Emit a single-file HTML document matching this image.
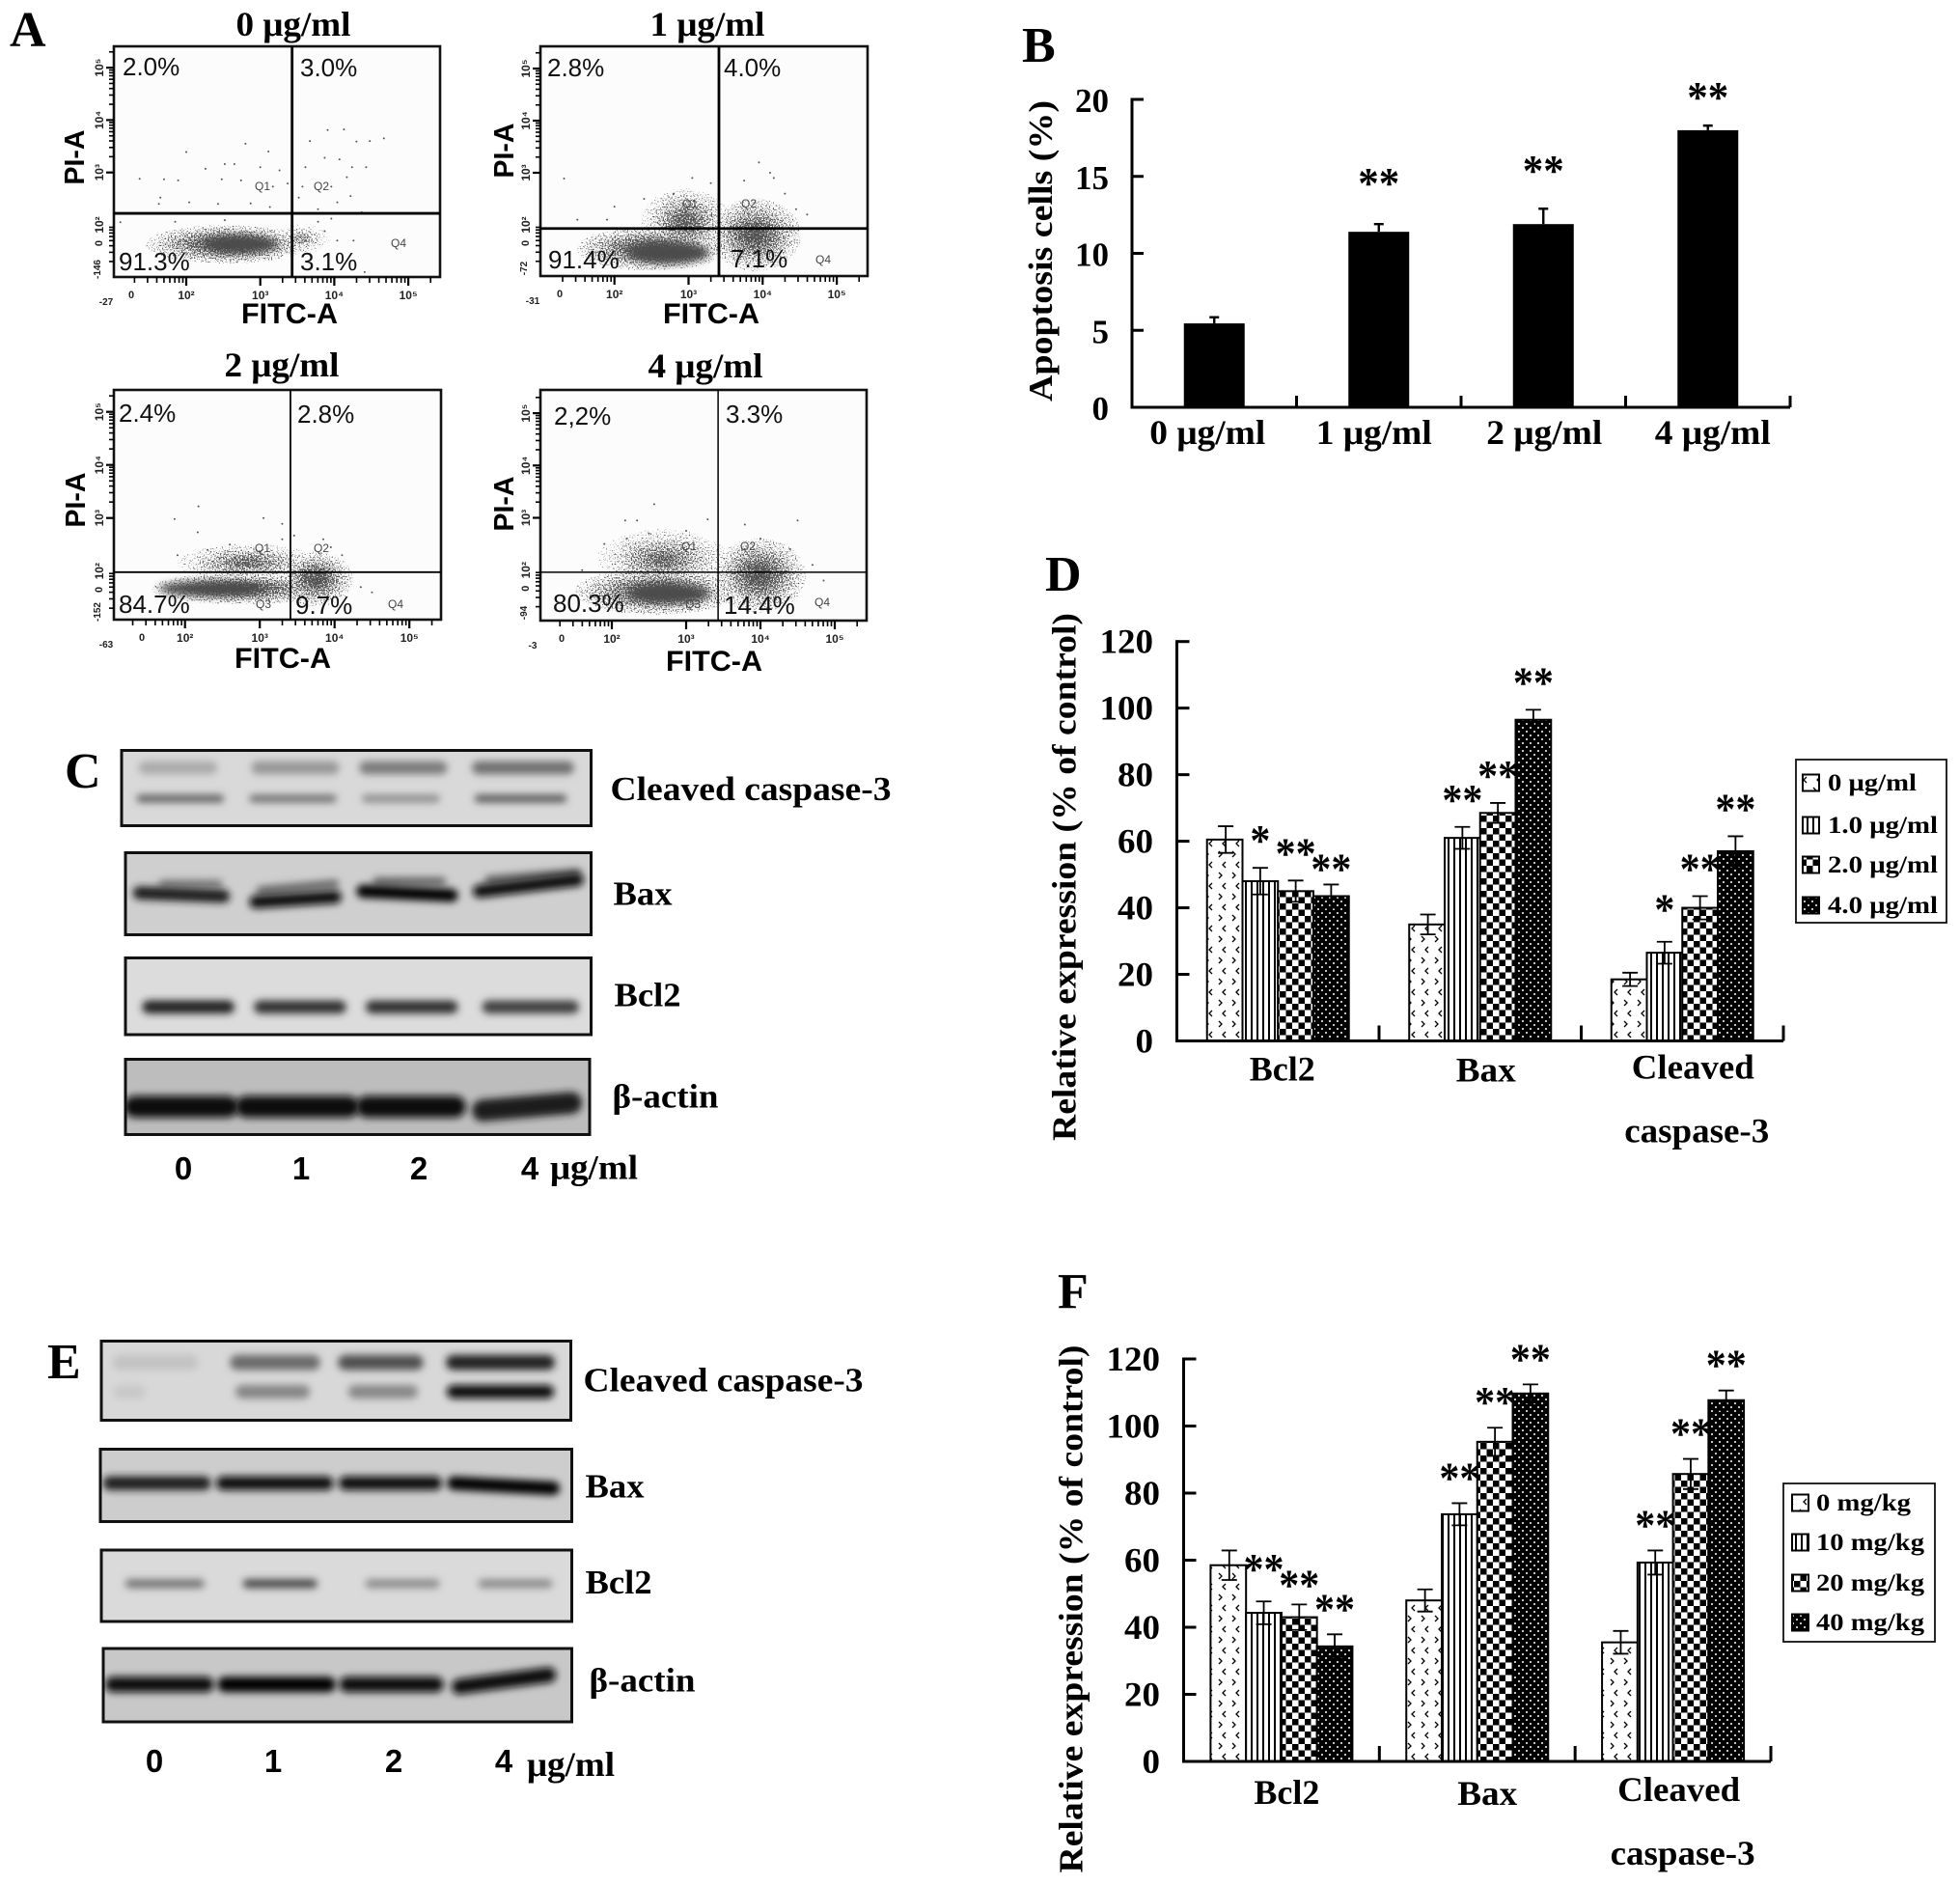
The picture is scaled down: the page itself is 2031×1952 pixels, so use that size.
<!DOCTYPE html>
<html lang="en">
<head>
<meta charset="utf-8">
<title>Apoptosis and protein expression figure</title>
<style>
html,body{margin:0;padding:0;background:#fff}
svg{display:block}
</style>
</head>
<body>
<svg id="fig" xmlns="http://www.w3.org/2000/svg" width="2031" height="1952" viewBox="0 0 2031 1952">
<defs>
<pattern id="p0" width="14" height="22" patternUnits="userSpaceOnUse"><rect width="14" height="22" fill="#fff"/><path d="M3 2l3 3-3 3M10 13l-3 3 3 3" fill="none" stroke="#000" stroke-width="1.3"/></pattern>
<pattern id="p1" width="6" height="6" patternUnits="userSpaceOnUse"><rect width="6" height="6" fill="#fff"/><rect width="2" height="6" fill="#000"/></pattern>
<pattern id="p2" width="13" height="13" patternUnits="userSpaceOnUse"><rect width="13" height="13" fill="#fff"/><rect width="6.5" height="6.5" fill="#000"/><rect x="6.5" y="6.5" width="6.5" height="6.5" fill="#000"/></pattern>
<pattern id="p3" width="8" height="8" patternUnits="userSpaceOnUse"><rect width="8" height="8" fill="#000"/><circle cx="2" cy="2" r="1" fill="#fff"/><circle cx="6" cy="6" r="1" fill="#fff"/></pattern>
<radialGradient id="cloudFill"><stop offset="0" stop-color="#000" stop-opacity="0.8"/><stop offset="1" stop-color="#000" stop-opacity="0.38"/></radialGradient>
<filter id="soft" x="-30%" y="-60%" width="160%" height="220%"><feGaussianBlur stdDeviation="4"/></filter>
<filter id="band" filterUnits="userSpaceOnUse" x="0" y="0" width="2031" height="1952"><feGaussianBlur stdDeviation="4"/></filter>
<filter id="speckle" x="-5%" y="-5%" width="110%" height="110%" color-interpolation-filters="sRGB"><feTurbulence type="fractalNoise" baseFrequency="0.7" numOctaves="2" seed="3" result="n"/><feComposite in="SourceAlpha" in2="n" operator="arithmetic" k1="0" k2="1" k3="1" k4="-1" result="a"/><feColorMatrix in="a" type="matrix" values="0 0 0 0 0.32 0 0 0 0 0.32 0 0 0 0 0.32 0 0 0 8 0"/></filter>
</defs>
</svg>
<script>
/* ---------- Panel B data ---------- */
const bCategories = ['0 μg/ml', '1 μg/ml', '2 μg/ml', '4 μg/ml'];
const bValues = [5.45, 11.4, 11.9, 18];
const bErrors = [0.4, 0.5, 1, 0.3];
const bSignificance = ['', '**', '**', '**'];
const bYTicks = [0, 5, 10, 15, 20];

/* ---------- Panel D data ---------- */
const dCategories = ['Bcl2', 'Bax', 'Cleaved caspase-3'];
const dSeriesNames = ['0 μg/ml', '1.0 μg/ml', '2.0 μg/ml', '4.0 μg/ml'];
const dSeries0 = [60.5, 35, 18.5];
const dSeries1 = [48, 61, 26.5];
const dSeries2 = [45, 68.5, 40];
const dSeries3 = [43.5, 96.5, 57];
const dErrors0 = [4, 3, 2];
const dErrors1 = [4, 3.3, 3.3];
const dErrors2 = [3.2, 3, 3.5];
const dErrors3 = [3.5, 3, 4.5];
const dStars0 = ['', '', ''];
const dStars1 = ['*', '**', '*'];
const dStars2 = ['**', '**', '**'];
const dStars3 = ['**', '**', '**'];
const dYTicks = [0, 20, 40, 60, 80, 100, 120];

/* ---------- Panel F data ---------- */
const fCategories = ['Bcl2', 'Bax', 'Cleaved caspase-3'];
const fSeriesNames = ['0 mg/kg', '10 mg/kg', '20 mg/kg', '40 mg/kg'];
const fSeries0 = [58.5, 48, 35.5];
const fSeries1 = [44.3, 73.7, 59.3];
const fSeries2 = [43, 95.3, 85.7];
const fSeries3 = [34.3, 109.7, 107.7];
const fErrors0 = [4.4, 3.3, 3.4];
const fErrors1 = [3.4, 3.3, 3.6];
const fErrors2 = [3.8, 4.2, 4.5];
const fErrors3 = [3.6, 2.7, 2.9];
const fStars0 = ['', '', ''];
const fStars1 = ['**', '**', '**'];
const fStars2 = ['**', '**', '**'];
const fStars3 = ['**', '**', '**'];
const fYTicks = [0, 20, 40, 60, 80, 100, 120];

/* ---------- Panel A data: log10(FITC), log10(PI) ---------- */
const aTitles = ['0 μg/ml', '1 μg/ml', '2 μg/ml', '4 μg/ml'];
const aGateX = [3.43, 3.41, 3.41, 3.43];
const aGateY = [2.22, 1.93, 1.98, 1.96];
const aQ1Percent = ['2.0%', '2.8%', '2.4%', '2,2%'];
const aQ2Percent = ['3.0%', '4.0%', '2.8%', '3.3%'];
const aQ3Percent = ['91.3%', '91.4%', '84.7%', '80.3%'];
const aQ4Percent = ['3.1%', '7.1%', '9.7%', '14.4%'];
const aXDecades = [2, 3, 4, 5];
const aYDecades = [2, 3, 4, 5];
/* cloud: centre log x, centre log y, spread log x, spread log y, density */
const aMainCloud = [
  [2.74, 1.63, 0.5, 0.16, 1],
  [2.73, 1.46, 0.55, 0.2, 1],
  [2.33, 1.67, 0.68, 0.13, 1],
  [2.77, 1.55, 0.55, 0.17, 1]
];
const aHaloCloud = [
  [2.55, 1.63, 1.1, 0.37, 1],
  [2.5, 1.54, 1.02, 0.42, 1],
  [2.75, 1.67, 1.2, 0.3, 1],
  [2.6, 1.59, 1.1, 0.45, 1]
];
const aUpperCloud = [
  [3, 2.9, 0.1, 0.1, 0],
  [2.96, 2.05, 0.6, 0.65, 0.9],
  [2.84, 2.16, 0.95, 0.36, 0.85],
  [2.69, 2.2, 0.9, 0.58, 0.85]
];
const aRightCloud = [
  [3.56, 1.74, 0.4, 0.3, 0.75],
  [3.9, 1.81, 0.62, 0.7, 0.97],
  [3.75, 1.85, 0.5, 0.52, 0.97],
  [3.99, 1.9, 0.62, 0.72, 0.97]
];
const aEvents0 = [[4.67,3.65],[4.13,3.82],[3.91,3.81],[3.67,3.6],[4.3,3.59],[4.48,3.6],[4.24,3.1],[4.43,3.1],[4.17,2.91],[4.07,3.25],[3.87,3.28],[3.61,3.1],[3.57,2.73],[3.96,2.73],[4.22,2.55],[3.52,2.52],[3.78,2.3],[4.04,2.43],[4.37,2.24],[2,3.39],[2.8,3.55],[3.11,3.4],[1.37,2.88],[1.7,2.87],[1.89,2.85],[2.26,3.07],[2.52,3.16],[2.65,3.16],[2.48,2.87],[2.74,2.85],[3,3.1],[3.26,3.04],[3.17,2.73],[3.37,2.79],[1.65,2.52],[1.63,2.4],[2.04,2.43],[2.43,2.4],[2.87,2.41],[3.13,2.34],[1.11,2.05],[1.85,2.06],[2.52,2.09],[3.78,2.06],[3.87,1.88],[4.04,1.7],[4.26,1.7],[4.41,1.1],[3.61,1.7],[3.96,2.12]];
const aEvents1 = [[1.32,2.89],[4.1,3],[3.95,3.2],[4.15,2.9],[3.05,2.9],[3.3,2.8],[3.75,2.85],[2.4,2.5],[2,2.35],[1.5,2.1],[4.6,2.2],[4.3,2.6],[2.8,2.6],[4.45,2.3],[1.9,2.1]];
const aEvents2 = [[2.18,3.22],[1.86,2.98],[3.05,3],[3.3,2.89],[2.17,2.73],[3.46,2.67],[3.85,2.6],[3.95,2.45],[4.1,2.3],[2.3,2.4],[1.9,2.3],[2.6,2.5],[4.5,1.6],[3.3,2.6],[4.35,1.7]];
const aEvents3 = [[2.57,3.26],[2.18,2.95],[2.34,2.95],[3.29,2.97],[3.79,2.87],[4.5,2.95],[1.9,2.5],[2.2,2.6],[2.5,2.7],[3,2.75],[4,2.6],[4.4,2.4],[4.7,2.1],[4.85,1.8],[1.6,2]];

const cBlotLabels = ['Cleaved caspase-3', 'Bax', 'Bcl2', 'β-actin'];
const eBlotLabels = ['Cleaved caspase-3', 'Bax', 'Bcl2', 'β-actin'];
const doses = ['0', '1', '2'];

const svg = document.getElementById('fig');
const NS = 'http://www.w3.org/2000/svg';
const SERIF = '"Liberation Serif", serif';
const SANS = '"Liberation Sans", sans-serif';

function mk(tag, attrs, parent) {
  const el = document.createElementNS(NS, tag);
  for (const k in attrs) el.setAttribute(k, attrs[k]);
  (parent || svg).appendChild(el);
  return el;
}
function line(parent, x1, y1, x2, y2, w) {
  return mk('line', {x1: x1, y1: y1, x2: x2, y2: y2, stroke: '#000', 'stroke-width': w}, parent);
}
function label(parent, str, x, y, o) {
  o = o || {};
  const a = {x: x, y: y, 'font-family': o.fam || SERIF, 'font-size': o.size || 34, 'font-weight': o.weight || 'bold', 'text-anchor': o.anchor || 'start', fill: o.fill || '#000'};
  if (o.len) { a.textLength = o.len; a.lengthAdjust = 'spacingAndGlyphs'; }
  if (o.rot) a.transform = 'rotate(-90 ' + x + ' ' + y + ')';
  const el = mk('text', a, parent);
  el.textContent = str;
  return el;
}
function panelLetter(str, x, y) {
  const el = label(svg, str, x, y, {size: 52});
  
  
}
panelLetter('A', 10, 48);
panelLetter('B', 1059, 64);
panelLetter('C', 67, 816);
panelLetter('D', 1083, 612);
panelLetter('E', 49, 1428);
panelLetter('F', 1096, 1355);

/* ---------- Flow cytometry panels ---------- */
function drawFlow(i, box, xAx, yAx, events, titlePos, axisPos, extras, qLabels, pctPos, thick) {
  const g = mk('g', {});
  
  
  const sx = v => xAx[0] + (v - 2) * xAx[1];
  const sy = v => yAx[0] - (v - 2) * yAx[1];
  const bg = mk('rect', {x: box[0], y: box[1], width: box[2] - box[0], height: box[3] - box[1], fill: '#fcfcfc'}, g);
  
  
  const clip = mk('clipPath', {id: 'clip' + i}, g);
  mk('rect', {x: box[0], y: box[1], width: box[2] - box[0], height: box[3] - box[1]}, clip);
  const dots = mk('g', {'clip-path': 'url(#clip' + i + ')'}, g);
  
  
  [aUpperCloud[i], aRightCloud[i], aHaloCloud[i]].forEach(function (c) {
    if (!c[4]) return;
    mk('ellipse', {cx: sx(c[0]), cy: sy(c[1]), rx: c[2] * xAx[1], ry: c[3] * yAx[1], fill: 'url(#cloudFill)', 'fill-opacity': c[4], filter: 'url(#speckle)'}, dots);
  });
  const m = aMainCloud[i];
  mk('ellipse', {cx: sx(m[0]), cy: sy(m[1]), rx: m[2] * xAx[1], ry: m[3] * yAx[1], fill: '#4c4c4c', 'fill-opacity': m[4], filter: 'url(#soft)'}, dots);
  events.forEach(function (e) {
    const d = mk('circle', {cx: sx(e[0]), cy: sy(e[1]), r: 1, fill: '#555'}, dots);
    
    
  });
  const frame = mk('rect', {x: box[0], y: box[1], width: box[2] - box[0], height: box[3] - box[1], fill: 'none', stroke: '#111', 'stroke-width': 2.6}, g);
  
  
  const gx = line(g, sx(aGateX[i]), box[1], sx(aGateX[i]), box[3], thick);
  
  
  const gy = line(g, box[0], sy(aGateY[i]), box[2], sy(aGateY[i]), thick);
  
  
  const minors = [1, 2, 3, 4, 5, 6, 7, 8, 9];
  aXDecades.forEach(function (d) {
    minors.forEach(function (k) {
      const v = d + Math.log10(k) - (d === 2 ? 1 : 0);
      if (sx(v) < box[0] || sx(v) > box[2]) return;
      line(g, sx(v), box[3], sx(v), box[3] + (k === 1 ? 9 : 6), k === 1 ? 2.2 : 1.6);
    });
    if (d === 2) line(g, sx(2), box[3], sx(2), box[3] + 9, 2.2);
    const tl = label(g, '10' + '⁰¹²³⁴⁵'[d], sx(d), box[3] + 23, {fam: SANS, size: 12, anchor: 'middle', fill: '#222'});
    
    
  });
  aYDecades.forEach(function (d) {
    minors.forEach(function (k) {
      const v = d + Math.log10(k) - (d === 2 ? 1 : 0);
      if (sy(v) < box[1] || sy(v) > box[3]) return;
      line(g, box[0], sy(v), box[0] - (k === 1 ? 8 : 5), sy(v), k === 1 ? 2.2 : 1.6);
    });
    const tl = label(g, '10' + '⁰¹²³⁴⁵'[d], box[0] - 11, sy(d), {fam: SANS, size: 12, anchor: 'middle', rot: true, fill: '#222'});
    
    
  });
  label(g, extras[0], box[0] - 8, box[3] + 29, {fam: SANS, size: 10, anchor: 'middle', fill: '#222'});
  label(g, '0', extras[2], box[3] + 22, {fam: SANS, size: 11, anchor: 'middle', fill: '#222'});
  label(g, extras[1], box[0] - 14, box[3] - 8, {fam: SANS, size: 10, anchor: 'middle', rot: true, fill: '#222'});
  label(g, '0', box[0] - 12, sy(1.65), {fam: SANS, size: 11, anchor: 'middle', rot: true, fill: '#222'});
  qLabels.forEach(function (q) {
    const ql = label(g, q[0], q[1], q[2], {fam: SANS, size: 12, weight: 'normal', anchor: 'middle', fill: '#444'});
    
    
  });
  [aQ1Percent[i], aQ2Percent[i], aQ3Percent[i], aQ4Percent[i]].forEach(function (s, k) {
    const pl = label(g, s, pctPos[k][0], pctPos[k][1], {fam: SANS, size: 26, weight: 'normal', fill: '#111'});
    
    
  });
  const tt = label(g, aTitles[i], titlePos[0], titlePos[1], {size: 36, anchor: 'middle', len: 119});
  
  
  const xt = label(g, 'FITC-A', axisPos[0], axisPos[1], {fam: SANS, size: 30, anchor: 'middle', len: 100});
  
  
  const yt = label(g, 'PI-A', axisPos[2], axisPos[3], {fam: SANS, size: 29, anchor: 'middle', len: 57, rot: true});
  
  
}
drawFlow(0, [118, 48, 456, 287], [193, 76.7], [233, 54.3], aEvents0, [304, 37], [300, 335, 87, 163], ['-27', '-146', 136],
  [['Q1', 272, 197], ['Q2', 333, 197], ['Q4', 413, 256]], [[127, 78], [311, 79], [123, 280], [311, 280]], 2.8);
drawFlow(1, [560, 48, 899, 286], [636.7, 76.8], [233, 54], aEvents1, [733, 37], [737, 335, 532, 156], ['-31', '-72', 580],
  [['Q1', 715, 215], ['Q2', 776, 215], ['Q4', 853, 273]], [[567, 79], [750, 79], [568, 278], [757, 277]], 2.8);
drawFlow(2, [118, 404, 457, 642], [191.7, 77.5], [591.7, 55], aEvents2, [292, 390], [293, 692, 88, 518], ['-63', '-152', 147],
  [['Q1', 272, 572], ['Q2', 333, 572], ['Q3', 273, 630], ['Q4', 410, 630]], [[123, 437], [308, 438], [123, 635], [306, 636]], 1.8);
drawFlow(3, [560, 404, 898, 643], [634, 77], [590.7, 54.2], aEvents3, [731, 391], [740, 695, 532, 522], ['-3', '-94', 582],
  [['Q1', 714, 570], ['Q2', 775, 570], ['Q3', 718, 630], ['Q4', 852, 628]], [[574, 440], [752, 438], [573, 634], [750, 636]], 1.5);

/* ---------- Panel B: single-series bar chart ---------- */
(function () {
  const g = mk('g', {});
  
  
  const x0 = 1173, x1 = 1855, y0 = 422, yMax = 103, maxV = 20;
  const band = (x1 - x0) / bCategories.length;
  const yScale = v => y0 - (v / maxV) * (y0 - yMax);
  const xScale = i => x0 + band * (i + 0.5);
  const barW = 63;
  const starLift = [0, 27, 24, 14];
  const labelShift = [-7, -5, 1, 5];
  bValues.forEach(function (v, i) {
    const cx = xScale(i);
    const bar = mk('rect', {x: cx - barW / 2, y: yScale(v), width: barW, height: y0 - yScale(v), fill: '#000'}, g);
    
    
    const top = yScale(v + bErrors[i]);
    const eb = mk('path', {d: 'M' + cx + ' ' + yScale(v) + 'V' + top + 'm-5 0h10', stroke: '#000', 'stroke-width': 2.4, fill: 'none'}, g);
    
    
    if (bSignificance[i]) {
      const st = label(g, bSignificance[i], cx, top - starLift[i], {size: 46, anchor: 'middle', len: 43});
      
      
    }
    const lb = label(g, bCategories[i], cx + labelShift[i], 460, {size: 36, anchor: 'middle', len: 120});
    
    
  });
  const ya = line(g, x0, yMax - 1.5, x0, y0 + 1.5, 3);
  
  
  const xa = line(g, x0, y0, x1, y0, 3);
  
  
  for (let i = 1; i <= bCategories.length; i++) line(g, x0 + band * i, y0, x0 + band * i, y0 - 12, 3);
  bYTicks.forEach(function (v) {
    line(g, x0, yScale(v), x0 + 12, yScale(v), 3);
    const tl = label(g, String(v), x0 - 24, yScale(v) + 13, {size: 35, anchor: 'end'});
    
    
  });
  const yt = label(g, 'Apoptosis cells (%)', 1090, 260, {size: 35, anchor: 'middle', len: 312, rot: true});
  
  
})();

/* ---------- Panels D and F: grouped bar charts ---------- */
function drawGrouped(c) {
  const g = mk('g', {});
  
  
  const band = (c.x1 - c.x0) / c.categories.length;
  const barW = 36.75;
  const yScale = v => c.y0 - (v / 120) * (c.y0 - c.yTop);
  const xScale = (gi, si) => c.x0 + band * gi + (band - 4 * barW) / 2 + si * barW;
  c.series.forEach(function (vals, si) {
    vals.forEach(function (v, gi) {
      const x = xScale(gi, si);
      const bar = mk('rect', {x: x, y: yScale(v), width: barW, height: c.y0 - yScale(v), fill: 'url(#p' + si + ')', stroke: '#000', 'stroke-width': 2}, g);
      
      
    });
  });
  c.series.forEach(function (vals, si) {
    vals.forEach(function (v, gi) {
      const cx = xScale(gi, si) + barW / 2 + (si === 0 ? 1 : 0);
      const err = c.errors[si][gi];
      const top = yScale(v + err), bot = yScale(v - err);
      const eb = mk('path', {d: 'M' + cx + ' ' + bot + 'V' + top + 'M' + (cx - 8) + ' ' + top + 'h16M' + (cx - 8) + ' ' + bot + 'h16', stroke: '#000', 'stroke-width': 1.8, fill: 'none'}, g);
      
      
      const s = c.stars[si][gi];
      if (s) {
        const nudge = c.nudge[gi + '-' + si] || 0;
        const st = label(g, s, cx, top - c.lift - nudge + 19, {size: 46, anchor: 'middle', len: s.length === 2 ? 42 : 21});
        
        
      }
    });
  });
  const ya = line(g, c.x0, c.yTop - 1.5, c.x0, c.y0 + 1.5, 3);
  
  
  const xa = line(g, c.x0, c.y0, c.x1, c.y0, 3);
  
  
  for (let i = 1; i <= c.categories.length; i++) line(g, c.x0 + band * i, c.y0, c.x0 + band * i, c.y0 - 16, 3);
  c.ticks.forEach(function (v) {
    line(g, c.x0, yScale(v), c.x0 + 13, yScale(v), 3);
    const s = String(v);
    const tl = label(g, s, c.tickRight, yScale(v) + 12, {size: 36, anchor: 'end', len: s.length * 18.5});
    
    
  });
  c.categories.forEach(function (cat, i) {
    const cx = c.x0 + band * (i + 0.5);
    const parts = cat.split(' ');
    parts.forEach(function (p, k) {
      const lb = label(g, p, cx + c.labelDx[i] + (k ? 4 : 0), c.labelY[i] + k * 66, {size: 36, anchor: 'middle', len: {Bcl2: 68, Bax: 62, Cleaved: 127, 'caspase-3': 150}[p]});
      
      
    });
  });
  const yt = label(g, 'Relative expression (% of control)', c.titleX, c.titleY, {size: 35, anchor: 'middle', len: 547, rot: true});
  
  
  const lg = mk('g', {}, g);
  
  
  const L = c.legend;
  mk('rect', {x: L.x, y: L.y, width: L.w, height: L.h, fill: '#fff', stroke: '#111', 'stroke-width': 1.8}, lg);
  c.seriesNames.forEach(function (name, i) {
    const entry = mk('g', {}, lg);
    
    
    const cy = L.rows[i];
    mk('rect', {x: L.sx, y: cy - 8.5, width: 17, height: 17, fill: 'url(#p' + i + ')', stroke: '#000', 'stroke-width': 2}, entry);
    label(entry, name, L.tx, cy + 8, {size: 25, len: L.widths[i]});
  });
}
drawGrouped({
  name: 'expression-chart-invitro', categories: dCategories, seriesNames: dSeriesNames,
  series: [dSeries0, dSeries1, dSeries2, dSeries3], errors: [dErrors0, dErrors1, dErrors2, dErrors3],
  stars: [dStars0, dStars1, dStars2, dStars3], ticks: dYTicks,
  x0: 1219.5, x1: 1848, y0: 1078.5, yTop: 664.7, tickRight: 1195, lift: 32, nudge: {'0-3': -12, '2-1': 5},
  labelDx: [4.5, 6, 11], labelY: [1119.5, 1120.5, 1117.5], titleX: 1114.5, titleY: 908.5,
  legend: {x: 1861, y: 787, w: 156, h: 169, sx: 1868, tx: 1894, rows: [811, 855, 896, 938], widths: [92, 114, 114, 114]}
});
drawGrouped({
  name: 'expression-chart-invivo', categories: fCategories, seriesNames: fSeriesNames,
  series: [fSeries0, fSeries1, fSeries2, fSeries3], errors: [fErrors0, fErrors1, fErrors2, fErrors3],
  stars: [fStars0, fStars1, fStars2, fStars3], ticks: fYTicks,
  x0: 1226.5, x1: 1835, y0: 1825, yTop: 1408, tickRight: 1202, lift: 30, nudge: {'0-1': 7, '0-2': -6},
  labelDx: [5.5, 10.5, 6], labelY: [1869, 1870, 1866], titleX: 1121.5, titleY: 1667,
  legend: {x: 1848, y: 1537, w: 157, h: 164, sx: 1857, tx: 1882, rows: [1557, 1598, 1640, 1681], widths: [98, 112, 112, 112]}
});

/* ---------- Western blots ---------- */
function drawBlot(name, x, y, w, h, bg, bands, text, tx, ty, tw) {
  const g = mk('g', {});
  
  
  const clipId = 'c-' + name;
  const clip = mk('clipPath', {id: clipId}, g);
  mk('rect', {x: x, y: y, width: w, height: h}, clip);
  mk('rect', {x: x, y: y, width: w, height: h, fill: bg}, g);
  const inner = mk('g', {'clip-path': 'url(#' + clipId + ')'}, g);
  bands.forEach(function (b) {
    const el = mk('line', {x1: x + b[0] * w, y1: y + b[2] * h, x2: x + b[1] * w, y2: y + b[3] * h, stroke: b[5], 'stroke-width': b[4] * h, 'stroke-linecap': 'round', filter: 'url(#band)'}, inner);
    
    
  });
  mk('rect', {x: x, y: y, width: w, height: h, fill: 'none', stroke: '#111', 'stroke-width': 3}, g);
  const lb = label(g, text, tx, ty, {size: 35, len: tw});
  
  
}
function row(y, th, cols) {
  return cols.map(function (c) { return [c[0] + 0.02, c[1] - 0.02, c[3] === undefined ? y : c[3], c[4] === undefined ? y : c[4], th, c[2]]; });
}
drawBlot('blot-c-caspase', 126, 777.5, 486.5, 78, '#d9d9d9',
  row(0.23, 0.17, [[0.03, 0.21, '#aaa'], [0.27, 0.47, '#969696'], [0.5, 0.7, '#7a7a7a'], [0.74, 0.97, '#707070']]).concat(
  row(0.64, 0.1, [[0.02, 0.23, '#5e5e5e'], [0.26, 0.47, '#707070'], [0.5, 0.69, '#8a8a8a'], [0.74, 0.96, '#565656']])),
  cBlotLabels[0], 632.5, 829, 291);
drawBlot('blot-c-bax', 130, 883.5, 482.5, 85, '#cfcfcf',
  row(0.38, 0.1, [[0.06, 0.22, '#777'], [0.27, 0.47, '#636363', 0.46, 0.38], [0.52, 0.7, '#636363', 0.35, 0.35], [0.76, 0.99, '#636363', 0.33, 0.24]]).concat(
  row(0.53, 0.16, [[0.01, 0.23, '#1c1c1c', 0.49, 0.53], [0.26, 0.47, '#0c0c0c', 0.6, 0.54], [0.49, 0.72, '#050505', 0.47, 0.52], [0.74, 0.99, '#0c0c0c', 0.47, 0.33]])),
  cBlotLabels[1], 635.5, 937.5, 61);
drawBlot('blot-c-bcl2', 130, 992.5, 482.5, 79.5, '#dcdcdc',
  row(0.64, 0.17, [[0.03, 0.24, '#202020'], [0.27, 0.48, '#333'], [0.51, 0.72, '#303030'], [0.76, 0.98, '#404040']]),
  cBlotLabels[2], 636.5, 1042.5, 69);
drawBlot('blot-c-actin', 130, 1097.5, 481, 78, '#bdbdbd',
  row(0.63, 0.29, [[0.0, 0.24, '#080808'], [0.24, 0.5, '#0a0a0a'], [0.5, 0.73, '#101010'], [0.75, 0.98, '#1c1c1c', 0.68, 0.58]]),
  cBlotLabels[3], 634.5, 1147.5, 110);
drawBlot('blot-e-caspase', 105, 1389.5, 486.5, 82, '#d8d8d8',
  row(0.27, 0.19, [[0.02, 0.21, '#c2c2c2'], [0.27, 0.47, '#6a6a6a'], [0.5, 0.69, '#505050'], [0.73, 0.97, '#242424']]).concat(
  row(0.64, 0.17, [[0.02, 0.1, '#c8c8c8'], [0.28, 0.45, '#858585'], [0.52, 0.68, '#888'], [0.73, 0.97, '#101010']])),
  eBlotLabels[0], 604.5, 1441.5, 290);
drawBlot('blot-e-bax', 104, 1501.5, 488.5, 75, '#cdcdcd',
  row(0.47, 0.19, [[0.0, 0.24, '#1c1c1c'], [0.24, 0.5, '#0c0c0c'], [0.5, 0.73, '#0c0c0c'], [0.73, 0.98, '#000', 0.47, 0.54]]),
  eBlotLabels[1], 606.5, 1551.5, 61);
drawBlot('blot-e-bcl2', 105, 1606, 487.5, 74, '#dadada',
  row(0.47, 0.12, [[0.04, 0.23, '#727272'], [0.29, 0.47, '#444'], [0.55, 0.73, '#8a8a8a'], [0.79, 0.97, '#8a8a8a']]),
  eBlotLabels[2], 606.5, 1651, 69);
drawBlot('blot-e-actin', 107, 1708, 485.5, 76, '#c8c8c8',
  row(0.49, 0.21, [[0.0, 0.24, '#0c0c0c'], [0.24, 0.5, '#060606'], [0.5, 0.73, '#0c0c0c'], [0.74, 0.97, '#0c0c0c', 0.52, 0.36]]),
  eBlotLabels[3], 610.5, 1752.5, 110);

function doseLabels(name, xs, y, fourX, fourY, unitX, unitY) {
  const g = mk('g', {});
  
  
  doses.forEach(function (d, i) { label(g, d, xs[i], y, {fam: SANS, size: 33, anchor: 'middle'}); });
  label(g, '4', fourX, fourY, {fam: SANS, size: 33, anchor: 'middle'});
  label(g, 'μg/ml', unitX, unitY, {size: 36, len: 91});
}
doseLabels('dose-labels-c', [190, 312, 434], 1222, 549, 1222, 570, 1221.5);
doseLabels('dose-labels-e', [160, 283, 408], 1836, 522, 1836, 546, 1840);
</script>
</body>
</html>
